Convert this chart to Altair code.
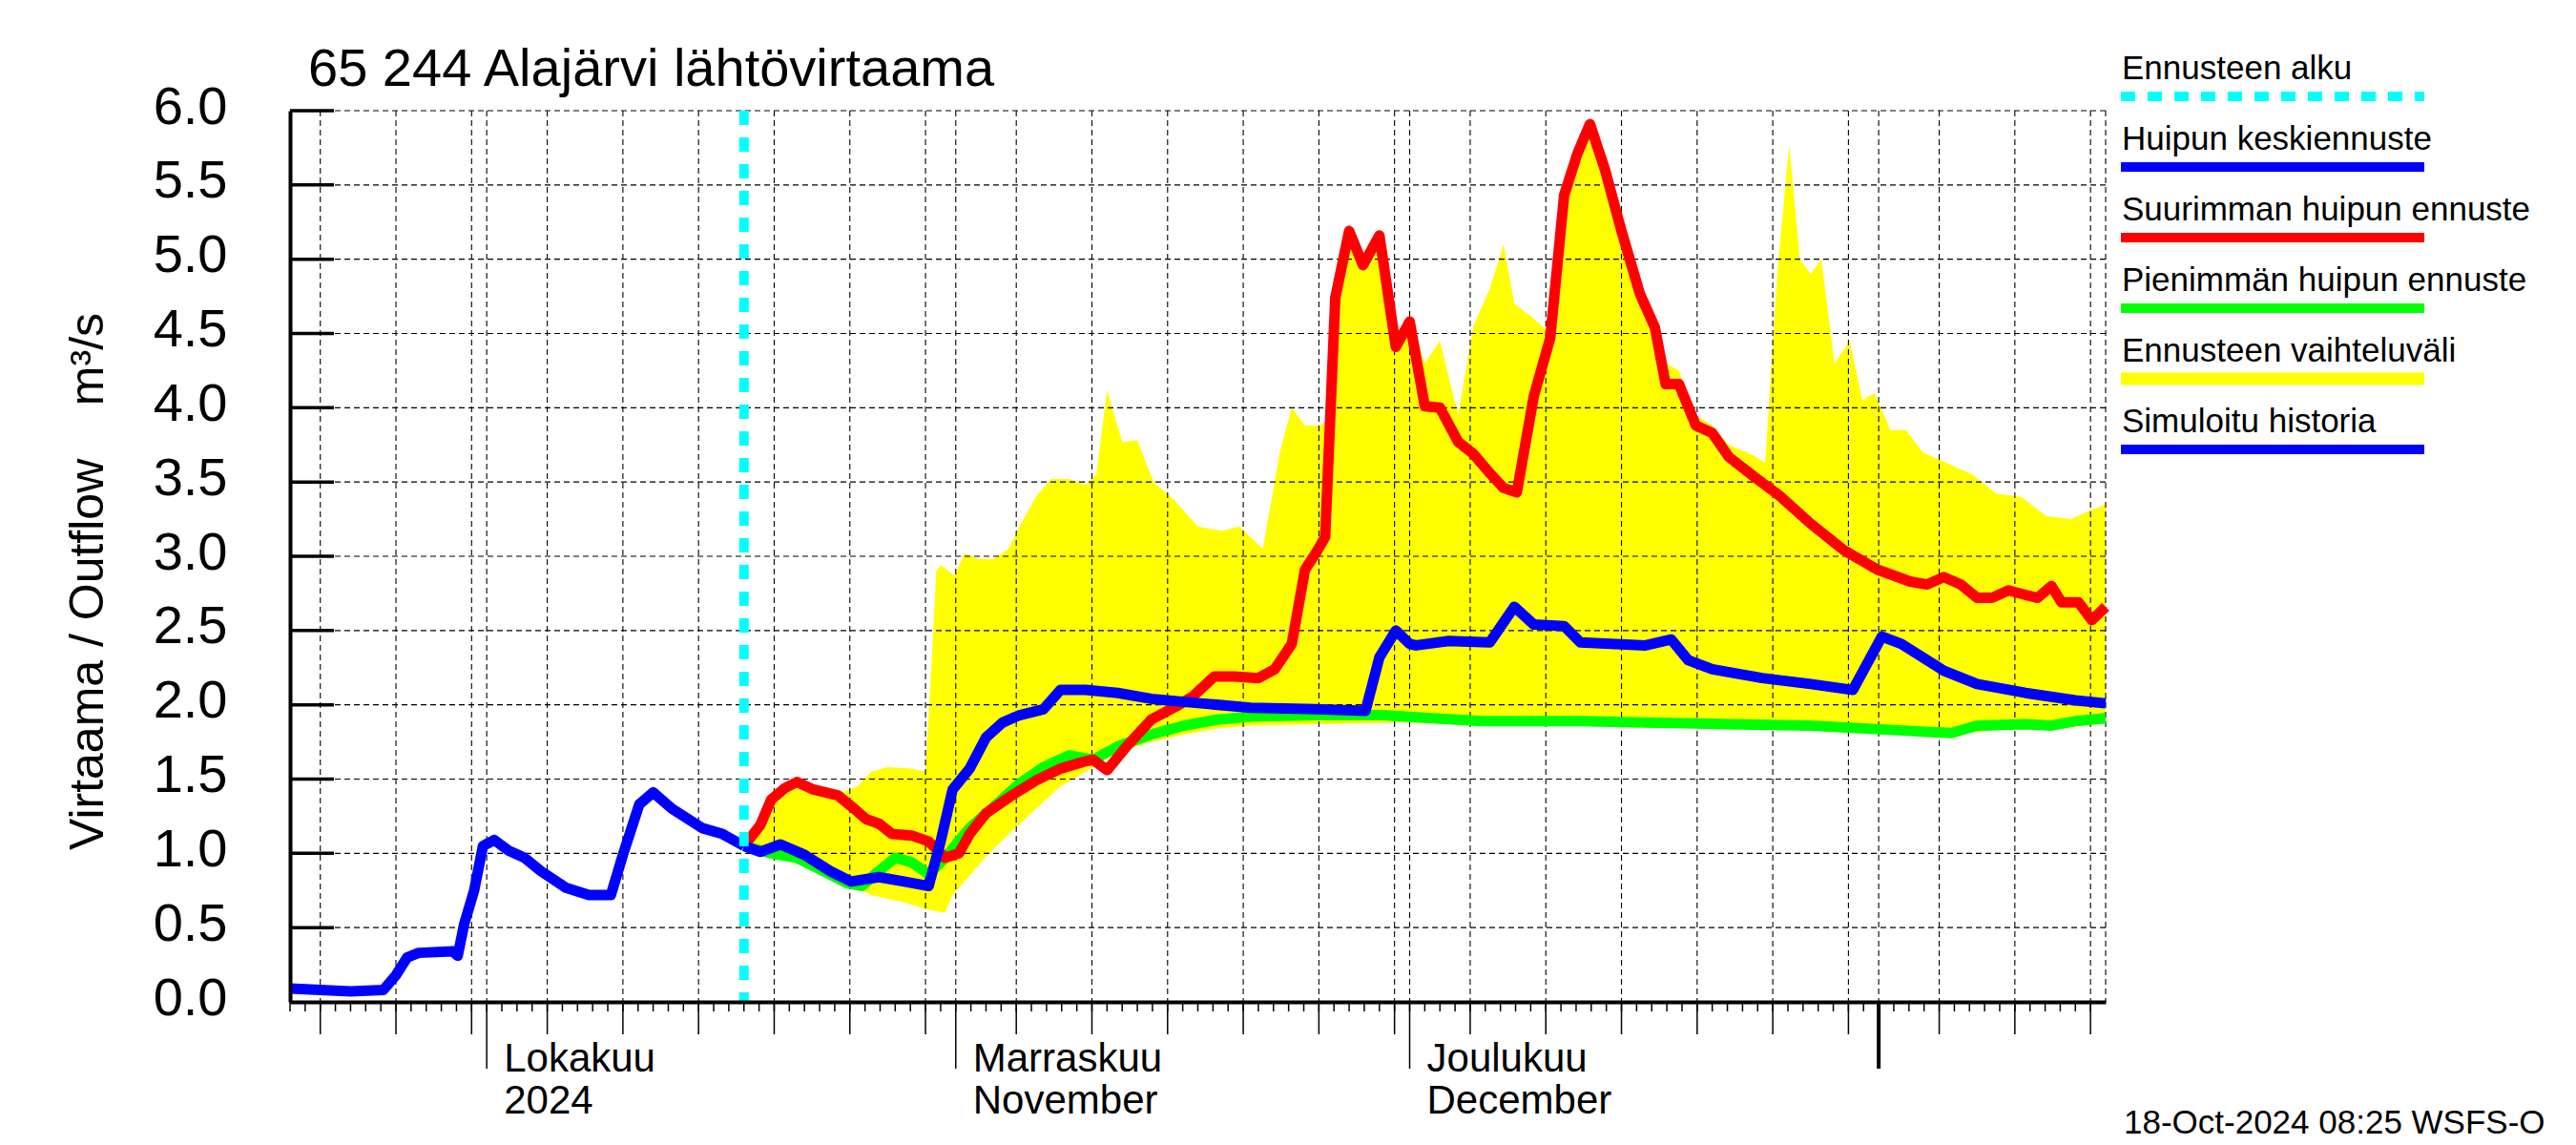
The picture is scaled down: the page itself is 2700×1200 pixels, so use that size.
import altair as alt
import pandas as pd

FONT = "Liberation Sans"

# ---------------- data ----------------
hist_dates = ["2024-09-18 00", "2024-09-20 00", "2024-09-22 00", "2024-09-24 04", "2024-09-25 00",
              "2024-09-25 18", "2024-09-26 12", "2024-09-28 18", "2024-09-29 02", "2024-09-29 12",
              "2024-09-30 04", "2024-09-30 18", "2024-10-01 12", "2024-10-02 10", "2024-10-03 12",
              "2024-10-04 14", "2024-10-06 05", "2024-10-07 18", "2024-10-09 05", "2024-10-10 00",
              "2024-10-11 02", "2024-10-12 00", "2024-10-13 06", "2024-10-15 06", "2024-10-16 14",
              "2024-10-18 00"]
hist_vals = [0.09, 0.08, 0.07, 0.08, 0.18, 0.30, 0.33, 0.34, 0.31, 0.52,
             0.75, 1.05, 1.09, 1.02, 0.97, 0.88, 0.77, 0.72, 0.72, 0.99,
             1.33, 1.41, 1.30, 1.17, 1.13, 1.05]

mean_dates = ["2024-10-18 00", "2024-10-19 02", "2024-10-20 10", "2024-10-22 00", "2024-10-23 17",
              "2024-10-25 02", "2024-10-26 22", "2024-10-28 14", "2024-10-30 05", "2024-10-31 00",
              "2024-10-31 19", "2024-11-01 22", "2024-11-03 00", "2024-11-04 02", "2024-11-05 05",
              "2024-11-06 19", "2024-11-07 22", "2024-11-09 14", "2024-11-11 17", "2024-11-13 22",
              "2024-11-17 05", "2024-11-20 12", "2024-11-24 19", "2024-11-28 02", "2024-11-29 00",
              "2024-11-30 02", "2024-12-01 00", "2024-12-01 10", "2024-12-03 14", "2024-12-06 07",
              "2024-12-07 22", "2024-12-09 05", "2024-12-11 05", "2024-12-12 07", "2024-12-16 14",
              "2024-12-18 07", "2024-12-19 10", "2024-12-21 00", "2024-12-24 07", "2024-12-27 12",
              "2024-12-30 07", "2025-01-01 05", "2025-01-02 12", "2025-01-05 07", "2025-01-07 12",
              "2025-01-10 17", "2025-01-14 00", "2025-01-16 00"]
mean_vals = [1.05, 1.01, 1.06, 0.99, 0.88, 0.81, 0.84, 0.81, 0.78, 1.08,
             1.43, 1.57, 1.78, 1.88, 1.93, 1.97, 2.10, 2.10, 2.08, 2.04,
             2.01, 1.98, 1.97, 1.96, 2.32, 2.50, 2.41, 2.40, 2.43, 2.42,
             2.66, 2.54, 2.53, 2.42, 2.40, 2.44, 2.30, 2.24, 2.18, 2.14,
             2.10, 2.46, 2.41, 2.23, 2.14, 2.08, 2.03, 2.01]

max_dates = ["2024-10-18 00", "2024-10-19 02", "2024-10-19 19", "2024-10-20 17", "2024-10-21 12",
             "2024-10-22 14", "2024-10-24 05", "2024-10-25 07", "2024-10-26 02", "2024-10-26 22",
             "2024-10-27 19", "2024-10-29 02", "2024-10-30 05", "2024-10-31 07", "2024-11-01 05",
             "2024-11-01 22", "2024-11-03 00", "2024-11-04 17", "2024-11-06 07", "2024-11-07 22",
             "2024-11-09 14", "2024-11-10 02", "2024-11-11 00", "2024-11-12 07", "2024-11-13 22",
             "2024-11-15 14", "2024-11-16 17", "2024-11-18 02", "2024-11-19 10", "2024-11-21 00",
             "2024-11-22 02", "2024-11-23 05", "2024-11-24 02", "2024-11-24 19", "2024-11-25 10",
             "2024-11-26 02", "2024-11-27 00", "2024-11-27 22", "2024-11-29 00", "2024-11-30 02",
             "2024-12-01 00", "2024-12-02 00", "2024-12-03 00", "2024-12-04 05", "2024-12-05 05",
             "2024-12-06 07", "2024-12-07 05", "2024-12-08 02", "2024-12-09 05", "2024-12-10 07",
             "2024-12-11 05", "2024-12-12 02", "2024-12-12 22", "2024-12-13 22", "2024-12-15 00",
             "2024-12-16 05", "2024-12-17 05", "2024-12-17 22", "2024-12-18 19", "2024-12-19 22",
             "2024-12-21 00", "2024-12-22 02", "2024-12-23 17", "2024-12-25 10", "2024-12-27 12",
             "2024-12-29 17", "2024-12-31 22", "2025-01-03 02", "2025-01-04 05", "2025-01-05 07",
             "2025-01-06 10", "2025-01-07 12", "2025-01-08 12", "2025-01-09 14", "2025-01-10 17",
             "2025-01-11 12", "2025-01-12 10", "2025-01-13 02", "2025-01-14 05", "2025-01-15 02",
             "2025-01-16 00"]
max_vals = [1.05, 1.19, 1.36, 1.44, 1.48, 1.43, 1.39, 1.30, 1.23, 1.20,
            1.13, 1.12, 1.08, 0.97, 1.00, 1.13, 1.27, 1.39, 1.49, 1.57,
            1.62, 1.63, 1.56, 1.72, 1.90, 1.99, 2.06, 2.19, 2.19, 2.18,
            2.24, 2.41, 2.91, 3.02, 3.13, 4.74, 5.19, 4.96, 5.16, 4.41,
            4.58, 4.01, 4.00, 3.77, 3.69, 3.56, 3.46, 3.43, 4.08, 4.47,
            5.43, 5.71, 5.91, 5.60, 5.19, 4.77, 4.54, 4.16, 4.16, 3.88,
            3.83, 3.67, 3.54, 3.41, 3.22, 3.04, 2.91, 2.83, 2.81, 2.86,
            2.81, 2.72, 2.72, 2.77, 2.74, 2.72, 2.80, 2.69, 2.69, 2.57,
            2.66]

min_dates = ["2024-10-18 00", "2024-10-19 19", "2024-10-21 12", "2024-10-23 02", "2024-10-24 19",
             "2024-10-25 19", "2024-10-26 22", "2024-10-28 00", "2024-10-29 02", "2024-10-30 05",
             "2024-10-31 07", "2024-11-01 22", "2024-11-03 14", "2024-11-05 05", "2024-11-06 19",
             "2024-11-08 12", "2024-11-10 02", "2024-11-11 17", "2024-11-13 22", "2024-11-16 02",
             "2024-11-18 07", "2024-11-20 12", "2024-11-24 19", "2024-11-29 05", "2024-12-02 12",
             "2024-12-05 17", "2024-12-12 07", "2024-12-16 14", "2024-12-22 02", "2024-12-27 12",
             "2025-01-02 00", "2025-01-05 19", "2025-01-07 12", "2025-01-10 17", "2025-01-12 10",
             "2025-01-14 00", "2025-01-16 00"]
min_vals = [1.05, 1.00, 0.97, 0.89, 0.80, 0.78, 0.88, 0.97, 0.94, 0.86,
            0.97, 1.17, 1.32, 1.47, 1.58, 1.66, 1.63, 1.72, 1.80, 1.86,
            1.90, 1.92, 1.93, 1.93, 1.91, 1.89, 1.89, 1.88, 1.87, 1.86,
            1.83, 1.81, 1.86, 1.87, 1.86, 1.89, 1.91]

band_top_dates = ["2024-10-18 00", "2024-10-19 02", "2024-10-19 19", "2024-10-20 17", "2024-10-21 12",
                  "2024-10-22 14", "2024-10-24 05", "2024-10-25 12", "2024-10-26 10", "2024-10-27 12",
                  "2024-10-29 02", "2024-10-30 00", "2024-10-30 10", "2024-10-30 17", "2024-10-31 00",
                  "2024-10-31 22", "2024-11-01 14", "2024-11-02 12", "2024-11-03 12", "2024-11-04 12",
                  "2024-11-05 05", "2024-11-06 07", "2024-11-07 07", "2024-11-08 12", "2024-11-09 14",
                  "2024-11-10 07", "2024-11-11 00", "2024-11-12 00", "2024-11-13 00", "2024-11-14 02",
                  "2024-11-15 10", "2024-11-17 00", "2024-11-18 14", "2024-11-19 17", "2024-11-20 19",
                  "2024-11-21 07", "2024-11-22 10", "2024-11-23 05", "2024-11-24 02", "2024-11-25 00",
                  "2024-11-25 10", "2024-11-26 02", "2024-11-27 00", "2024-11-27 22", "2024-11-29 00",
                  "2024-11-30 02", "2024-12-01 00", "2024-12-02 00", "2024-12-03 00", "2024-12-04 05",
                  "2024-12-05 05", "2024-12-06 07", "2024-12-07 05", "2024-12-07 22", "2024-12-09 05",
                  "2024-12-10 07", "2024-12-11 05", "2024-12-12 02", "2024-12-12 22", "2024-12-13 22",
                  "2024-12-15 00", "2024-12-16 05", "2024-12-17 05", "2024-12-17 22", "2024-12-18 19",
                  "2024-12-19 22", "2024-12-21 00", "2024-12-22 02", "2024-12-23 17", "2024-12-24 12",
                  "2024-12-25 07", "2024-12-26 02", "2024-12-26 19", "2024-12-27 12", "2024-12-28 05",
                  "2024-12-29 02", "2024-12-30 02", "2024-12-30 22", "2024-12-31 17", "2025-01-01 19",
                  "2025-01-02 19", "2025-01-03 22", "2025-01-05 00", "2025-01-07 05", "2025-01-08 19",
                  "2025-01-10 10", "2025-01-12 02", "2025-01-13 17", "2025-01-14 19", "2025-01-16 00"]
band_top_vals = [1.05, 1.19, 1.36, 1.44, 1.48, 1.43, 1.40, 1.45, 1.55, 1.58,
                 1.57, 1.55, 2.30, 2.90, 2.94, 2.87, 3.02, 2.98, 2.98, 3.05,
                 3.20, 3.40, 3.52, 3.52, 3.48, 3.55, 4.12, 3.77, 3.78, 3.50,
                 3.38, 3.20, 3.17, 3.20, 3.10, 3.05, 3.70, 4.00, 3.88, 3.88,
                 3.90, 4.80, 5.19, 4.96, 5.16, 4.45, 4.60, 4.30, 4.45, 3.95,
                 4.55, 4.80, 5.10, 4.70, 4.60, 4.50, 5.43, 5.71, 5.91, 5.60,
                 5.19, 4.80, 4.60, 4.30, 4.25, 3.95, 3.88, 3.75, 3.68, 3.63,
                 4.90, 5.77, 5.00, 4.90, 5.00, 4.30, 4.45, 4.05, 4.10, 3.85,
                 3.85, 3.70, 3.65, 3.55, 3.42, 3.40, 3.27, 3.25, 3.30, 3.35]

band_low_dates = ["2024-10-18 00", "2024-10-19 19", "2024-10-22 00", "2024-10-24 05", "2024-10-26 10",
                  "2024-10-28 14", "2024-10-30 05", "2024-10-31 07", "2024-10-31 19", "2024-11-01 22",
                  "2024-11-03 00", "2024-11-04 17", "2024-11-06 07", "2024-11-07 22", "2024-11-09 14",
                  "2024-11-11 17", "2024-11-13 22", "2024-11-16 02", "2024-11-18 07", "2024-11-20 12",
                  "2024-11-24 19", "2024-11-30 02", "2024-12-05 17", "2024-12-11 05", "2024-12-16 14",
                  "2024-12-27 12", "2025-01-05 19", "2025-01-10 17", "2025-01-16 00"]
band_low_vals = [1.05, 0.98, 0.92, 0.82, 0.72, 0.67, 0.62, 0.60, 0.72, 0.85,
                 0.98, 1.15, 1.30, 1.45, 1.55, 1.68, 1.75, 1.80, 1.84, 1.86,
                 1.87, 1.88, 1.87, 1.86, 1.86, 1.84, 1.80, 1.85, 1.88]

forecast_start = ["2024-10-18 00"]

y_tick_values = [0.0, 0.5, 1.0, 1.5, 2.0, 2.5, 3.0, 3.5, 4.0, 4.5, 5.0, 5.5, 6.0]
month_label_dates = ["2024-10-01 00", "2024-11-01 00", "2024-12-01 00"]
month_line1 = ["Lokakuu", "Marraskuu", "Joulukuu"]
month_line2 = ["2024", "November", "December"]
year_tick_dates = ["2025-01-01 00"]

title_text = "65 244 Alajärvi lähtövirtaama"
y_title = "Virtaama / Outflow\u00a0\u00a0\u00a0\u00a0m³/s"
stamp_text = "18-Oct-2024 08:25 WSFS-O"
legend_labels = ["Ennusteen alku", "Huipun keskiennuste", "Suurimman huipun ennuste",
                 "Pienimmän huipun ennuste", "Ennusteen vaihteluväli", "Simuloitu historia"]
legend_colors = ["#00FFFF", "#0000FF", "#FF0000", "#00FF00", "#FFFF00", "#0000FF"]

# ---------------- helpers ----------------
def iso(s):
    d, h = s.split()
    return f"{d}T{h}:00Z"


def frame(dates, vals):
    return pd.DataFrame({"date": [iso(d) for d in dates], "v": vals})


def date_frame(dates):
    return pd.DataFrame({"date": [iso(d) for d in dates]})


# tick positions along the time axis
all_days = pd.date_range("2024-09-18", "2025-01-15", freq="D")
day_ticks = [d.strftime("%Y-%m-%d 00") for d in all_days]
five_day_ticks = [d.strftime("%Y-%m-%d 00") for d in all_days if d.day % 5 == 0]
grid_dates = sorted(set(five_day_ticks + month_label_dates + year_tick_dates + ["2025-01-16 00"]))

W, H = 1903, 934

xscale = alt.Scale(type="utc", domain=[alt.DateTime(year=2024, month=9, date=18, utc=True),
                                       alt.DateTime(year=2025, month=1, date=16, utc=True)])
yscale = alt.Scale(domain=[0, 6], nice=False)

xaxis = alt.Axis(title=None, labels=False, ticks=False, grid=False, domain=True,
                 domainColor="black", domainWidth=4, zindex=1)
yaxis = alt.Axis(title=y_title, values=y_tick_values, format=".1f", grid=False, ticks=False,
                 domain=True, domainColor="black", domainWidth=4,
                 labelFont=FONT, labelFontSize=56, labelColor="black", labelPadding=66,
                 labelBaseline="alphabetic", labelOffset=13, labelOverlap=False, labelFlush=False,
                 titleFont=FONT, titleFontSize=50, titleFontWeight="normal", titleColor="black",
                 titleAngle=270, titleAlign="center", titleBaseline="alphabetic",
                 titleX=-197, titleY=493, zindex=1)

X = alt.X("date:T", scale=xscale, axis=xaxis)
Y = alt.Y("v:Q", scale=yscale, axis=yaxis)

GRID = dict(color="black", strokeWidth=1.1, strokeDash=[6, 4])

layers = []
# forecast range (yellow) and the part below its lower edge (white)
layers.append(alt.Chart(frame(band_top_dates, band_top_vals)).mark_area(color="#FFFF00", opacity=1).encode(x=X, y=Y))
layers.append(alt.Chart(frame(band_low_dates, band_low_vals)).mark_area(color="white", opacity=1).encode(x=X, y=Y))
# grid
layers.append(alt.Chart(pd.DataFrame({"v": y_tick_values[1:]})).mark_rule(**GRID).encode(y=Y))
layers.append(alt.Chart(date_frame(grid_dates)).mark_rule(**GRID).encode(x=X))
# inward y ticks
layers.append(alt.Chart(pd.DataFrame({"v": y_tick_values[1:]})).mark_rule(color="black", strokeWidth=3.5)
              .encode(y=Y, x=alt.value(0), x2=alt.value(46)))
# x ticks
layers.append(alt.Chart(date_frame(day_ticks)).mark_rule(color="black", strokeWidth=1.5)
              .encode(x=X, y=alt.value(H), y2=alt.value(H + 10)))
layers.append(alt.Chart(date_frame(five_day_ticks)).mark_rule(color="black", strokeWidth=1.5)
              .encode(x=X, y=alt.value(H), y2=alt.value(H + 34)))
layers.append(alt.Chart(date_frame(month_label_dates)).mark_rule(color="black", strokeWidth=1.5)
              .encode(x=X, y=alt.value(H), y2=alt.value(H + 70)))
layers.append(alt.Chart(date_frame(year_tick_dates)).mark_rule(color="black", strokeWidth=4)
              .encode(x=X, y=alt.value(H), y2=alt.value(H + 70)))
# series
LINE = dict(strokeWidth=11, strokeJoin="round", strokeCap="butt")
layers.append(alt.Chart(frame(min_dates, min_vals)).mark_line(color="#00FF00", **LINE).encode(x=X, y=Y))
layers.append(alt.Chart(frame(max_dates, max_vals)).mark_line(color="#FF0000", **LINE).encode(x=X, y=Y))
layers.append(alt.Chart(frame(mean_dates, mean_vals)).mark_line(color="#0000FF", **LINE).encode(x=X, y=Y))
layers.append(alt.Chart(frame(hist_dates, hist_vals)).mark_line(color="#0000FF", **LINE).encode(x=X, y=Y))
# forecast start
layers.append(alt.Chart(date_frame(forecast_start)).mark_rule(color="#00FFFF", strokeWidth=10, strokeDash=[15, 13])
              .encode(x=X))
# month labels
months = pd.DataFrame({"date": [iso(d) for d in month_label_dates], "l1": month_line1, "l2": month_line2})
TXT = dict(font=FONT, color="black", align="left", baseline="alphabetic")
layers.append(alt.Chart(months).mark_text(fontSize=42, dx=18, **TXT).encode(x=X, y=alt.value(H + 73), text="l1:N"))
layers.append(alt.Chart(months).mark_text(fontSize=42, dx=18, **TXT).encode(x=X, y=alt.value(H + 117), text="l2:N"))
# title and stamp
layers.append(alt.Chart(pd.DataFrame({"t": [title_text]})).mark_text(fontSize=56, **TXT)
              .encode(x=alt.value(19), y=alt.value(-26), text="t:N"))
layers.append(alt.Chart(pd.DataFrame({"t": [stamp_text]})).mark_text(fontSize=35, **TXT)
              .encode(x=alt.value(1922), y=alt.value(1072), text="t:N"))
# legend
for i, (lab, col) in enumerate(zip(legend_labels, legend_colors)):
    ty = -33 + 74 * i
    layers.append(alt.Chart(pd.DataFrame({"t": [lab]})).mark_text(fontSize=35, **TXT)
                  .encode(x=alt.value(1920), y=alt.value(ty), text="t:N"))
    style = dict(color=col, strokeWidth=13 if i == 4 else 10)
    if i == 0:
        style["strokeDash"] = [15, 13]
    layers.append(alt.Chart(pd.DataFrame({"t": [lab]})).mark_rule(**style)
                  .encode(x=alt.value(1919), x2=alt.value(2237), y=alt.value(ty + 18)))

chart = alt.layer(*layers).properties(
    width=W, height=H,
    padding={"left": 296, "top": 108, "right": 480, "bottom": 145},
    autosize=alt.AutoSizeParams(type="none"),
    background="white",
).configure_view(stroke="transparent")

chart.save("out.html", embed_options={"renderer": "svg", "actions": False})
